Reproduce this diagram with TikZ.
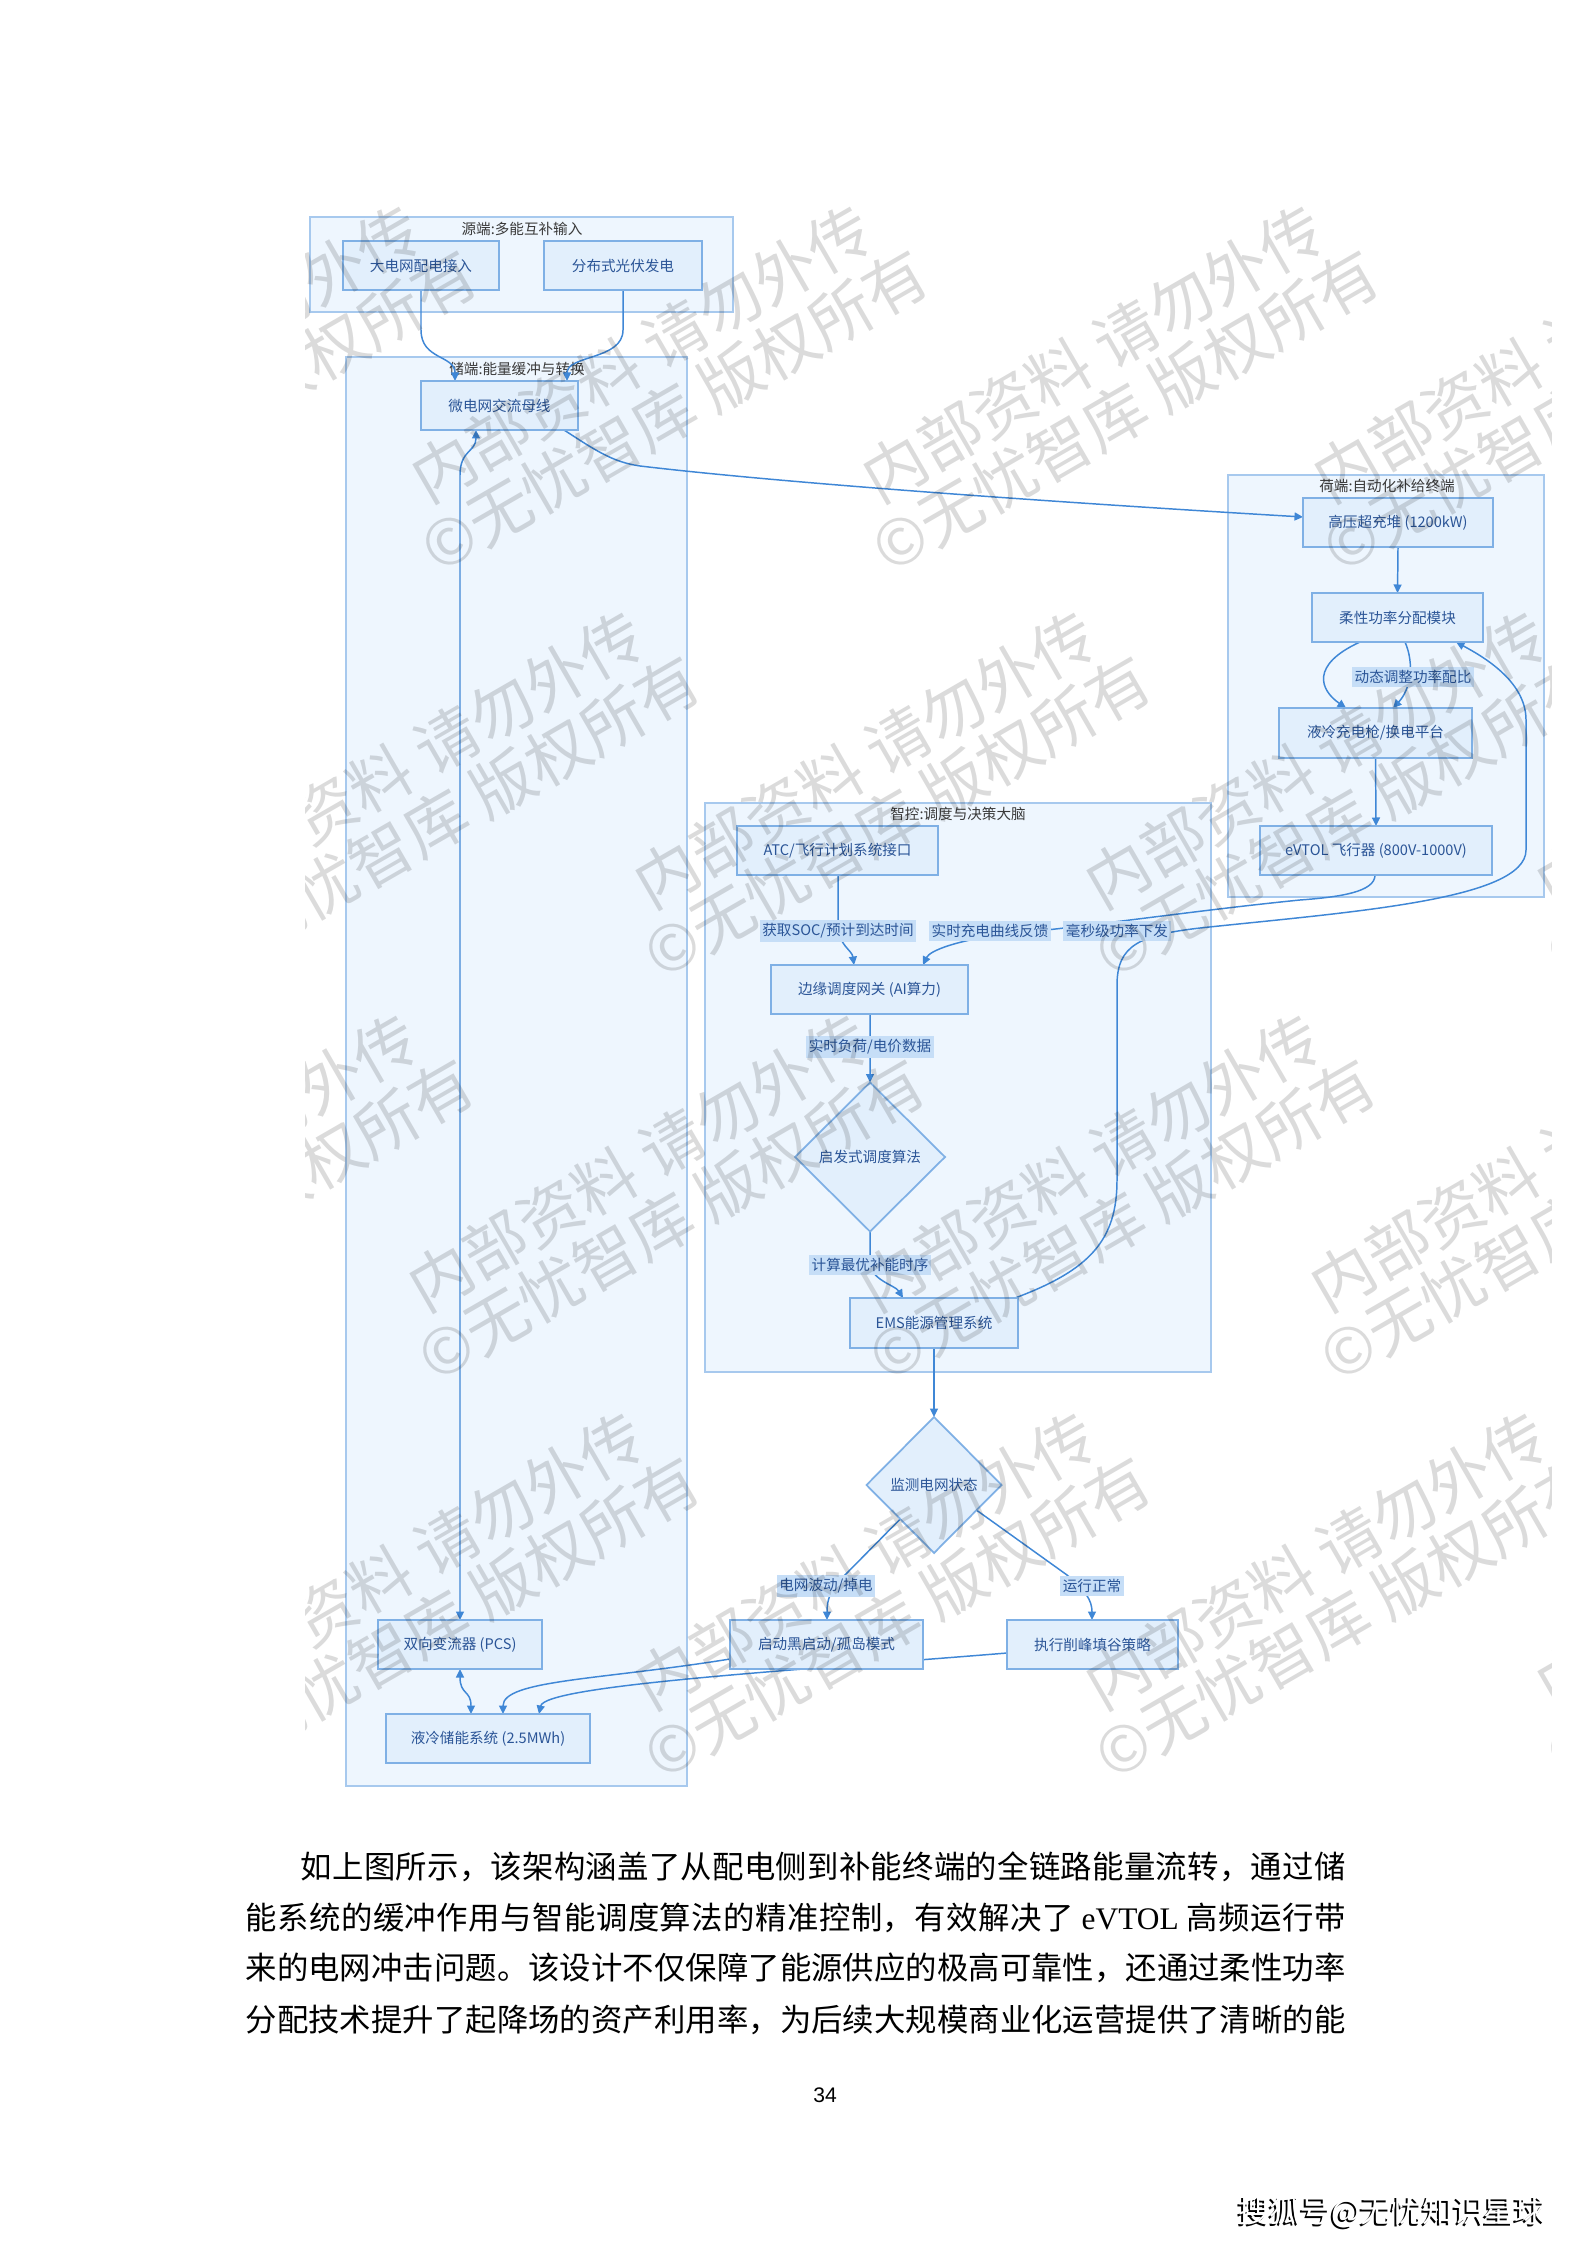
\documentclass[tikz,border=0pt]{standalone}
\usepackage{fontspec}
\setmainfont{Noto Sans CJK SC}
\newfontfamily\lser{Liberation Serif}
\newfontfamily\lsans{Liberation Sans}
\usetikzlibrary{shapes.geometric,arrows.meta,calc}
\definecolor{clF}{HTML}{EEF6FE}
\definecolor{clB}{HTML}{A7C9EE}
\definecolor{ndF}{HTML}{E2EFFC}
\definecolor{ndB}{HTML}{7FB0E5}
\definecolor{ndT}{HTML}{2B5597}
\definecolor{ttT}{HTML}{3A3A3A}
\definecolor{edC}{HTML}{3F87D6}
\definecolor{lbF}{HTML}{C6DEF7}
\newcommand\dgfont{\fontsize{4.15pt}{5pt}\selectfont}
\newcommand\mywmfont{\fontsize{18pt}{18.8pt}\selectfont}
\newcommand\myparafont{\fontsize{8.93pt}{10pt}\selectfont}
\newcount\cjkcnt
\cjkcnt="4E00
\loop
  \XeTeXcharclass\cjkcnt=1
  \advance\cjkcnt by 1
\ifnum\cjkcnt<"A000
\repeat
\XeTeXcharclass"FF0C=1
\XeTeXcharclass"3002=1
\XeTeXinterchartoks 1 1 = {\hskip 0pt plus 2pt minus 0.3pt\relax}
\tikzset{
  clus/.style={draw=clB, fill=clF, line width=0.6pt, inner sep=0pt, outer sep=0pt},
  box/.style={draw=ndB, fill=ndF, line width=0.5pt, inner sep=0pt, outer sep=0pt, text=ndT, font=\dgfont, minimum height=4.9mm},
  dia/.style={diamond, draw=ndB, fill=ndF, line width=0.5pt, inner sep=0pt, outer sep=0pt, text=ndT, font=\dgfont},
  ttl/.style={text=ttT, font=\dgfont, inner sep=0pt},
  lbl/.style={fill=lbF, text=ndT, font=\dgfont, inner xsep=0.25mm, inner ysep=0.35mm},
  edge/.style={draw=edC, line width=0.42pt, -{Triangle[length=0.85mm,width=0.8mm]}},
  edgeb/.style={draw=edC, line width=0.42pt, {Triangle[length=0.85mm,width=0.8mm]}-{Triangle[length=0.85mm,width=0.8mm]}},
  wm/.style={rotate=30, align=center, text=black, text opacity=0.14, font=\mywmfont, inner sep=0pt},
  para/.style={anchor=west, inner sep=0pt, font=\myparafont, text=black},
}
\begin{document}
\begin{tikzpicture}[x=0.1mm,y=-0.1mm]
\fill[white] (0,0) rectangle (1587,2245);
\useasboundingbox (0,0) rectangle (1587,2245);

% clusters
\node[clus, minimum width=42.3mm, minimum height=9.5mm] (cS) at (521.5,264.5) {};
\node[clus, minimum width=34.1mm, minimum height=142.9mm] (cE) at (516.5,1071.5) {};
\node[clus, minimum width=31.6mm, minimum height=42.2mm] (cL) at (1386,686) {};
\node[clus, minimum width=50.6mm, minimum height=56.9mm] (cC) at (958,1087.5) {};
\node[ttl] (tS) at (522,229) {源端:多能互补输入};
\node[ttl] (tE) at (517,369) {储端:能量缓冲与转换};
\node[ttl] (tL) at (1387,486) {荷端:自动化补给终端};
\node[ttl] (tC) at (958,814) {智控:调度与决策大脑};

% node placeholders (coordinates for edges need nodes first)
\path (421,265.5) node[box, minimum width=15.6mm, draw=none, fill=none] (n1) {}
      (623,265.5) node[box, minimum width=15.8mm, draw=none, fill=none] (n2) {}
      (499.5,405.5) node[box, minimum width=15.7mm, draw=none, fill=none] (n3) {}
      (460,1644.5) node[box, minimum width=16.4mm, draw=none, fill=none] (n4) {}
      (488,1738.5) node[box, minimum width=20.4mm, draw=none, fill=none] (n5) {}
      (1398,522.5) node[box, minimum width=19mm, draw=none, fill=none] (n6) {}
      (1397.5,617.5) node[box, minimum width=17.1mm, draw=none, fill=none] (n7) {}
      (1375.5,733) node[box, minimum width=19.3mm, minimum height=5mm, draw=none, fill=none] (n8) {}
      (1376,850.5) node[box, minimum width=23.2mm, draw=none, fill=none] (n9) {}
      (837.5,850.5) node[box, minimum width=20.1mm, draw=none, fill=none] (n10) {}
      (869.5,989.5) node[box, minimum width=19.7mm, draw=none, fill=none] (n11) {}
      (870,1157) node[dia, minimum width=15mm, minimum height=14.9mm, draw=none, fill=none] (n12) {}
      (934,1323) node[box, minimum width=16.8mm, minimum height=5mm, draw=none, fill=none] (n13) {}
      (934,1485) node[dia, minimum width=13.5mm, minimum height=13.6mm, draw=none, fill=none] (n14) {}
      (826.5,1644.5) node[box, minimum width=19.3mm, draw=none, fill=none] (n15) {}
      (1092.5,1644.5) node[box, minimum width=17.1mm, draw=none, fill=none] (n16) {};

% edges
\draw[edge] (n1.south) -- (421,330) .. controls (421,360) and (455,355) .. ($(n3.north)+(-44.5,0)$);
\draw[edge] (n2.south) -- (623,330) .. controls (623,360) and (567,355) .. ($(n3.north)+(67.5,0)$);
\draw[edge] ($(n3.south)+(64.5,0)$) .. controls (595,450) and (612,462) .. (640,466) .. controls (800,485) and (1100,505) .. ($(n6.west)+(0,-5.5)$);
\draw[edgeb] (n4.north) -- (460,475) .. controls (460,450) and (476,452) .. ($(n3.south)+(-23.5,0)$);
\draw[edgeb] (n4.south) .. controls (460,1695) and (471,1690) .. ($(n5.north)+(-17,0)$);
\draw[edge] ($(n15.west)+(0,14.5)$) .. controls (600,1680) and (503,1680) .. ($(n5.north)+(15,0)$);
\draw[edge] ($(n16.west)+(0,8.5)$) .. controls (800,1670) and (545,1685) .. ($(n5.north)+(51,0)$);
\draw[edge] (n6.south) -- (n7.north);
\draw[edge] ($(n7.south)+(-37.5,0)$) .. controls (1310,665) and (1320,690) .. ($(n8.north)+(-29.5,0)$);
\draw[edge] ($(n7.south)+(7.5,0)$) .. controls (1415,665) and (1410,690) .. ($(n8.north)+(17.5,0)$);
\draw[edge] (n8.south) -- (n9.north);
\draw[edge] ($(n9.south)+(-1,0)$) .. controls (1375,892) and (1340,897) .. (1300,900) .. controls (1200,910) and (1100,925) .. (1000,935) .. controls (960,940) and (930,950) .. ($(n11.north)+(53.5,0)$);
\draw[edge] ($(n13.north east)+(-3,0)$) .. controls (1090,1270) and (1117,1240) .. (1117,1180) -- (1117,985) .. controls (1117,945) and (1140,935) .. (1200,928) .. controls (1350,912) and (1526,900) .. (1526,850) -- (1526,720) .. controls (1526,680) and (1480,655) .. ($(n7.south)+(58.5,0)$);
\draw[edge] ($(n10.south)+(0.5,0)$) -- (838,925) .. controls (838,945) and (852,950) .. ($(n11.north)+(-15.5,0)$);
\draw[edge] ($(n11.south)+(0.5,0)$) -- (n12.north);
\draw[edge] (n12.south) -- (870,1262) .. controls (870,1280) and (895,1285) .. ($(n13.north)+(-31,0)$);
\draw[edge] (n13.south) -- (n14.north);
\draw[edge] ($(n14.west)!0.5!(n14.south)$) -- (843,1577) .. controls (830,1590) and (827,1600) .. ($(n15.north)+(0.5,0)$);
\draw[edge] ($(n14.east)!0.37!(n14.south)$) -- (1067,1575) .. controls (1085,1590) and (1092,1600) .. ($(n16.north)+(-0.5,0)$);

% visible nodes
\node[box, minimum width=15.6mm] (m1) at (n1) {大电网配电接入};
\node[box, minimum width=15.8mm] (m2) at (n2) {分布式光伏发电};
\node[box, minimum width=15.7mm] (m3) at (n3) {微电网交流母线};
\node[box, minimum width=16.4mm] (m4) at (n4) {双向变流器 (PCS)};
\node[box, minimum width=20.4mm] (m5) at (n5) {液冷储能系统 (2.5MWh)};
\node[box, minimum width=19mm] (m6) at (n6) {高压超充堆 (1200kW)};
\node[box, minimum width=17.1mm] (m7) at (n7) {柔性功率分配模块};
\node[box, minimum width=19.3mm, minimum height=5mm] (m8) at (n8) {液冷充电枪/换电平台};
\node[box, minimum width=23.2mm] (m9) at (n9) {eVTOL 飞行器 (800V-1000V)};
\node[box, minimum width=20.1mm] (m10) at (n10) {ATC/飞行计划系统接口};
\node[box, minimum width=19.7mm] (m11) at (n11) {边缘调度网关 (AI算力)};
\node[dia, minimum width=15mm, minimum height=14.9mm] (m12) at (n12) {启发式调度算法};
\node[box, minimum width=16.8mm, minimum height=5mm] (m13) at (n13) {EMS能源管理系统};
\node[dia, minimum width=13.5mm, minimum height=13.6mm] (m14) at (n14) {监测电网状态};
\node[box, minimum width=19.3mm] (m15) at (n15) {启动黑启动/孤岛模式};
\node[box, minimum width=17.1mm] (m16) at (n16) {执行削峰填谷策略};

% edge labels
\node[lbl] (l1) at (1413,677) {动态调整功率配比};
\node[lbl] (l2) at (838,931) {获取SOC/预计到达时间};
\node[lbl] (l3) at (990,931) {实时充电曲线反馈};
\node[lbl] (l4) at (1117,931) {毫秒级功率下发};
\node[lbl] (l5) at (870,1047) {实时负荷/电价数据};
\node[lbl] (l6) at (870,1265) {计算最优补能时序};
\node[lbl] (l7) at (826,1586) {电网波动/掉电};
\node[lbl] (l8) at (1092,1586) {运行正常};

% watermark
\begin{scope}
\clip (305,205) rectangle (1551,1797);
\foreach \cx/\cy [count=\k] in {207/382,658/382,1109/382,1560/382,
  430/788,881/788,1332/788,1783/788,
  204/1191,655/1191,1106/1191,1557/1191,
  430/1589,881/1589,1332/1589,1783/1589}
  {\node[wm] (wm\k) at (\cx,\cy) {内部资料 请勿外传\\©无忧智库 版权所有};}
\end{scope}

% paragraph
\node[para] (p1) at (300,1867) {\hbox to 104.5mm{\XeTeXinterchartokenstate=1 如上图所示，该架构涵盖了从配电侧到补能终端的全链路能量流转，通过储}};
\node[para] (p2) at (245,1918) {\hbox to 110mm{\XeTeXinterchartokenstate=1 能系统的缓冲作用与智能调度算法的精准控制，有效解决了{\lser\ eVTOL\ }高频运行带}};
\node[para] (p3) at (245,1968) {\hbox to 110mm{\XeTeXinterchartokenstate=1 来的电网冲击问题。该设计不仅保障了能源供应的极高可靠性，还通过柔性功率}};
\node[para] (p4) at (245,2020) {\hbox to 110mm{\XeTeXinterchartokenstate=1 分配技术提升了起降场的资产利用率，为后续大规模商业化运营提供了清晰的能}};

\node[font=\lsans\fontsize{6pt}{7pt}\selectfont, inner sep=0pt] (pg) at (825,2095) {34};
\node[font=\fontsize{8.8pt}{10pt}\selectfont, text=black, inner sep=0pt] (sohuS) at (1390,2214) {搜狐号@无忧知识星球};
\node[font=\fontsize{8.8pt}{10pt}\selectfont, text=white, inner sep=0pt] (sohu) at (1392,2212) {搜狐号@无忧知识星球};
\end{tikzpicture}
\end{document}
